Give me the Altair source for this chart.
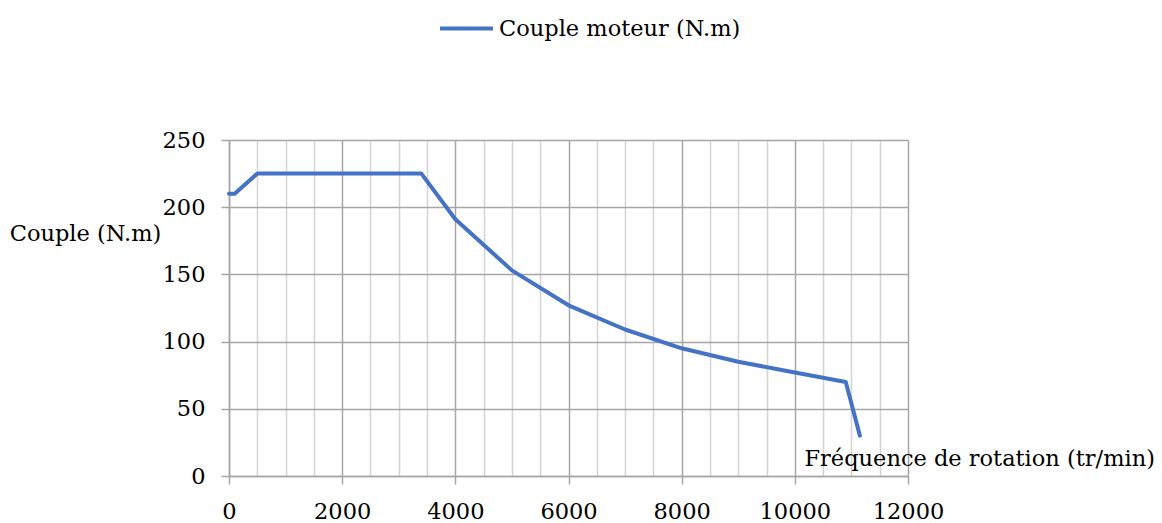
import altair as alt
import pandas as pd

rpm = [0, 100, 500, 3400, 4000, 5000, 6000, 7000, 8000, 9000, 10000, 10900, 11150]
torque = [210, 210, 225, 225, 191, 153, 127, 109, 95, 85, 77, 70, 30]
series_name = "Couple moteur (N.m)"
x_ticks = list(range(0, 12001, 500))
y_ticks = [0, 50, 100, 150, 200, 250]

df = pd.DataFrame({"rpm": rpm, "torque": torque, "serie": series_name})

FONT = "DejaVu Serif"
FS = 22.5
MAJOR = "#a6a6a6"
MINOR = "#d4d4d4"

chart = alt.Chart(df).mark_line(strokeWidth=4, strokeCap="round", strokeJoin="round").encode(
    x=alt.X(
        "rpm:Q",
        scale=alt.Scale(domain=[0, 12000], nice=False, zero=False),
        axis=alt.Axis(
            values=x_ticks,
            format="d",
            labelExpr="datum.value % 2000 === 0 ? datum.label : ''",
            grid=True,
            gridColor=alt.condition("datum.value % 2000 === 0", alt.value(MAJOR), alt.value(MINOR)),
            gridWidth=1.5,
            tickColor=MAJOR,
            tickOpacity=alt.condition("datum.value % 2000 === 0", alt.value(1), alt.value(0)),
            tickSize=8,
            tickWidth=1.5,
            domainColor=MAJOR,
            domainWidth=1.5,
            labelFont=FONT,
            labelFontSize=FS,
            labelColor="#000000",
            labelPadding=16,
            labelFlush=False,
            title="Fréquence de rotation (tr/min)",
            titleFont=FONT,
            titleFontSize=FS,
            titleFontWeight="normal",
            titleColor="#000000",
            titleAlign="left",
            titleBaseline="middle",
            titleX=575,
            titleY=-18,
        ),
    ),
    y=alt.Y(
        "torque:Q",
        scale=alt.Scale(domain=[0, 250], nice=False),
        axis=alt.Axis(
            values=y_ticks,
            grid=True,
            gridColor=MAJOR,
            gridWidth=1.5,
            tickColor=MAJOR,
            tickSize=8,
            tickWidth=1.5,
            domainColor=MAJOR,
            domainWidth=1.5,
            labelFont=FONT,
            labelFontSize=FS,
            labelColor="#000000",
            labelPadding=16,
            title="Couple (N.m)",
            titleFont=FONT,
            titleFontSize=FS,
            titleFontWeight="normal",
            titleColor="#000000",
            titleAngle=0,
            titleAlign="center",
            titleBaseline="middle",
            titleX=-144,
            titleY=93,
        ),
    ),
    color=alt.Color(
        "serie:N",
        scale=alt.Scale(range=["#4472C4"]),
        legend=alt.Legend(
            title=None,
            orient="none",
            legendX=209,
            legendY=-140,
            symbolType="stroke",
            symbolSize=2809,
            symbolStrokeWidth=4,
            labelFont=FONT,
            labelFontSize=FS,
            labelColor="#000000",
            labelOffset=4,
            labelLimit=0,
        ),
    ),
).properties(
    width=679,
    height=336,
    autosize=alt.AutoSizeParams(type="none"),
    padding={"left": 229, "top": 140, "right": 254, "bottom": 47},
).configure_view(stroke=None).configure(background="#ffffff")

chart.save("out.html", embed_options={"renderer": "svg", "actions": False})
